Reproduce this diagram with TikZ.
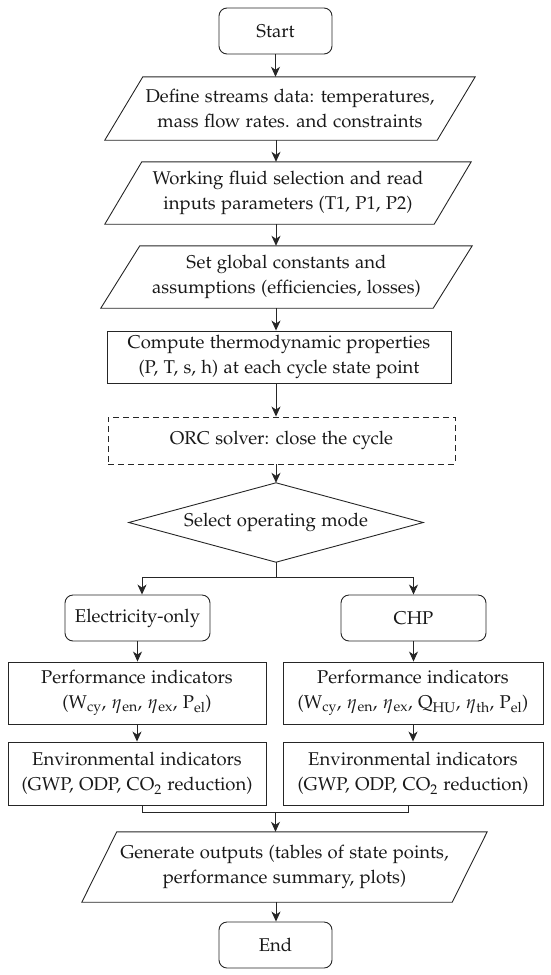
\documentclass[tikz,border=0pt]{standalone}
\usepackage[T1]{fontenc}
\usepackage{mathpazo}
\usetikzlibrary{arrows.meta}
\begin{document}
\begin{tikzpicture}[x=1pt,y=-1pt,
  every node/.style={font=\fontencoding{T1}\fontfamily{pplx}\fontsize{18.5}{25}\selectfont, text=black!90, inner sep=0pt, align=center},
  lin/.style={draw=black!85, line width=0.9pt},
  arr/.style={lin, -{Stealth[length=10pt,width=9pt,inset=3pt]}},
  term/.style={lin, rounded corners=8pt, minimum width=113pt, minimum height=46pt},
  proc/.style={lin, minimum height=62pt},
  blank/.style={minimum height=62pt}
]
\useasboundingbox (0,0) rectangle (550,975);
% nodes
\node[term] (start) at (275.5,31) {Start};
\node[blank, minimum width=332pt, minimum height=63pt] (p1) at (290,108.5) {Define streams data: temperatures,\\mass flow rates. and constraints};
\draw[lin] ([xshift=-19pt]p1.south west) -- ([xshift=19pt]p1.north west) -- ([xshift=19pt]p1.north east) -- ([xshift=-19pt]p1.south east) -- cycle;
\node[blank, minimum width=329pt] (p2) at (288,193) {Working fluid selection and read\\inputs parameters (T1, P1, P2)};
\draw[lin] ([xshift=-18.5pt]p2.south west) -- ([xshift=18.5pt]p2.north west) -- ([xshift=18.5pt]p2.north east) -- ([xshift=-18.5pt]p2.south east) -- cycle;
\node[blank, minimum width=332pt] (p3) at (286.5,277) {Set global constants and\\assumptions (efficiencies, losses)};
\draw[lin] ([xshift=-19.5pt]p3.south west) -- ([xshift=19.5pt]p3.north west) -- ([xshift=19.5pt]p3.north east) -- ([xshift=-19.5pt]p3.south east) -- cycle;
\node[proc, minimum width=344pt, minimum height=52pt] (comp) at (279,357) {Compute thermodynamic properties\\(P, T, s, h) at each cycle state point};
\node[lin, dashed, dash pattern=on 6pt off 4pt, minimum width=347pt, minimum height=47pt] (orc) at (281.5,440.5) {ORC solver: close the cycle};
\node[minimum width=294pt, minimum height=79pt] (sel) at (276,522.5) {Select operating mode};
\draw[lin] (sel.north) -- (sel.east) -- (sel.south) -- (sel.west) -- cycle;
\node[term, minimum width=145pt] (elec) at (137.5,618) {Electricity-only};
\node[term, minimum width=145pt] (chp) at (413.5,618) {CHP};
\node[proc, minimum width=258pt] (perfL) at (137,693) {Performance indicators\\(W\textsubscript{cy}, $\eta$\textsubscript{en}, $\eta$\textsubscript{ex}, P\textsubscript{el})};
\node[proc, minimum width=260pt] (perfR) at (413,693) {Performance indicators\\(W\textsubscript{cy}, $\eta$\textsubscript{en}, $\eta$\textsubscript{ex}, Q\textsubscript{HU}, $\eta$\textsubscript{th}, P\textsubscript{el})};
\node[proc, minimum width=258pt, minimum height=63pt] (envL) at (137,773.5) {Environmental indicators\\(GWP, ODP, CO\textsubscript{2} reduction)};
\node[proc, minimum width=260pt, minimum height=63pt] (envR) at (413,773.5) {Environmental indicators\\(GWP, ODP, CO\textsubscript{2} reduction)};
\node[blank, minimum width=370pt, minimum height=70pt] (p4) at (284.5,867) {Generate outputs (tables of state points,\\performance summary, plots)};
\draw[lin] ([xshift=-17.5pt]p4.south west) -- ([xshift=17.5pt]p4.north west) -- ([xshift=17.5pt]p4.north east) -- ([xshift=-17.5pt]p4.south east) -- cycle;
\node[term] (end) at (275.5,945) {End};
% connectors
\coordinate (ax) at (276,0);
\draw[arr] (start.south) -- (start.south |- p1.north);
\draw[arr] (p1.south -| ax) -- (p2.north -| ax);
\draw[arr] (p2.south -| ax) -- (p3.north -| ax);
\draw[arr] (p3.south -| ax) -- (comp.north -| ax);
\draw[arr] (comp.south -| ax) -- (orc.north -| ax);
\draw[arr] (orc.south -| ax) -- (sel.north);
\coordinate (br) at (276,577);
\draw[lin] (sel.south) -- (br);
\draw[arr] (br) -| ([xshift=4.5pt]elec.north);
\draw[arr] (br) -| (chp.north);
\draw[arr] (elec.south) -- (elec.south |- perfL.north);
\draw[arr] (chp.south) -- (chp.south |- perfR.north);
\draw[arr] (perfL.south) -- (envL.north);
\draw[arr] (perfR.south) -- (envR.north);
\coordinate (mg) at (275.5,812);
\draw[lin] ([xshift=5pt]envL.south) -- ([xshift=5pt]envL.south |- mg) -- ([xshift=-5pt]envR.south |- mg) -- ([xshift=-5pt]envR.south);
\draw[arr] (mg) -- (mg |- p4.north);
\draw[arr] (p4.south -| ax) -- (end.north -| ax);
\end{tikzpicture}
\end{document}
